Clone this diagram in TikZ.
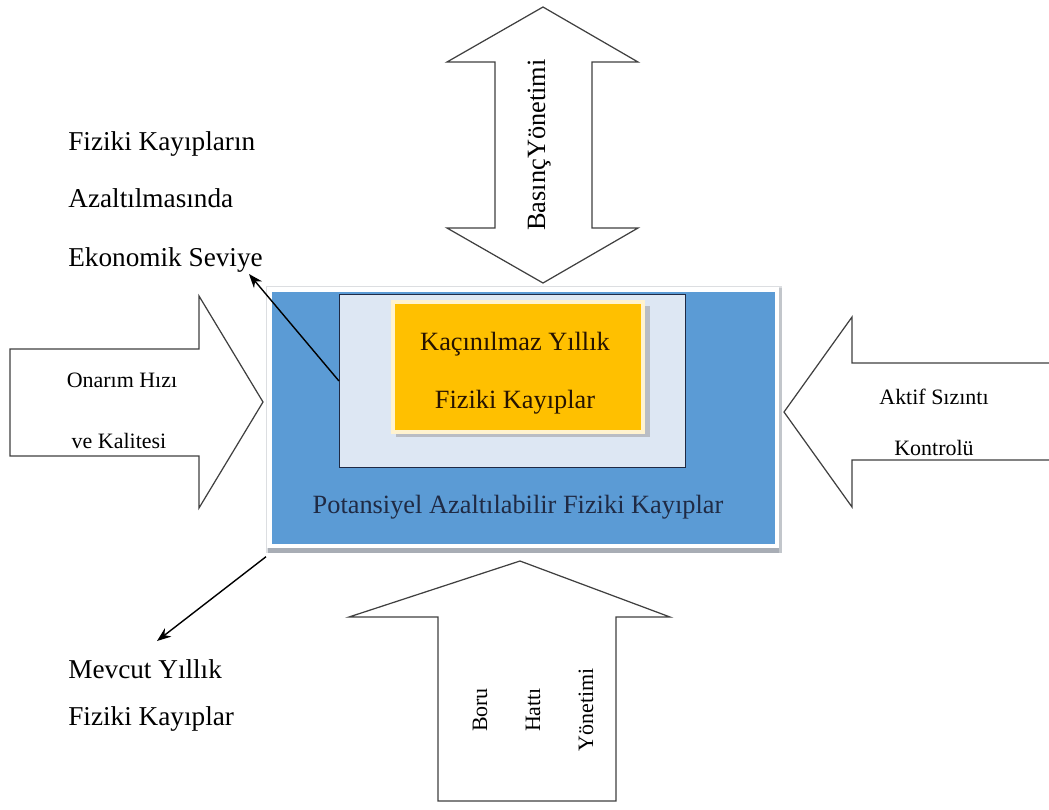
\documentclass[tikz,border=0pt]{standalone}
\usepackage{fontspec}
\setmainfont{Liberation Serif}
\usepackage{tikz}
\usetikzlibrary{arrows.meta}

\definecolor{potblue}{HTML}{5B9BD5}
\definecolor{paleblue}{HTML}{DDE7F3}
\definecolor{navy}{HTML}{1F2A44}
\definecolor{amber}{HTML}{FFC000}
\definecolor{cream}{HTML}{FFF3CF}
\definecolor{rim}{HTML}{A8ADB5}

\begin{document}
\begin{tikzpicture}[x=0.02cm, y=-0.02cm]
    \tikzstyle{blockarrow} = [draw=black!75, line width=0.7pt, fill=white]
    \tikzstyle{big} = [font=\fontsize{15.5}{18}\selectfont, inner sep=0pt]
    \tikzstyle{mid} = [font=\fontsize{15}{18}\selectfont, inner sep=0pt]
    \tikzstyle{small} = [font=\fontsize{12.5}{15}\selectfont, inner sep=0pt]
    \tikzstyle{arrow} = [-{Stealth[length=8pt, width=6pt]}, line width=0.8pt]
    \useasboundingbox[fill=white] (0,0) rectangle (1049,809);

    % block arrows
    \draw[blockarrow] (543,7) -- (638,62) -- (592,62) -- (592,228) -- (638,228) -- (543,283)
        -- (447,228) -- (495,228) -- (495,62) -- (447,62) -- cycle;
    \draw[blockarrow] (10,349) -- (199,349) -- (199,296) -- (263,402) -- (199,508)
        -- (199,456) -- (10,456) -- cycle;
    \draw[blockarrow] (1049,363) -- (852,363) -- (852,317) -- (784,412) -- (852,507)
        -- (852,460) -- (1049,460);
    \draw[blockarrow] (520,561) -- (670,617) -- (616,617) -- (616,801) -- (438,801)
        -- (438,617) -- (349,617) -- cycle;

    % boxes
    \fill[rim!40] (266,286) rectangle (782,553);
    \fill[rim] (268,548) rectangle (782,553);
    \fill[rim!70] (779,288) rectangle (782,553);
    \fill[white] (267,287) rectangle (779,548);
    \node[fill=potblue, minimum width=503*0.02cm, minimum height=252*0.02cm, inner sep=0pt,
        anchor=north west] (pot) at (272,292) {};
    \node[fill=paleblue, draw=navy, line width=0.6pt, minimum width=346*0.02cm,
        minimum height=173*0.02cm, inner sep=0pt, anchor=north west] (inner) at (339,294) {};
    \fill[rim!80] (396,306) rectangle (650,437);
    \node[fill=amber, draw=cream, line width=2pt, minimum width=250*0.02cm,
        minimum height=130*0.02cm, inner sep=0pt, anchor=north west] (core) at (391,300) {};

    % texts
    \node[mid, anchor=base, text=black!85!orange] (kac) at (515,350) {Kaçınılmaz Yıllık};
    \node[mid, anchor=base, text=black!85!orange] (fk1) at (515,408) {Fiziki Kayıplar};
    \node[mid, anchor=base, text=navy] (potx) at (518,513) {Potansiyel Azaltılabilir Fiziki Kayıplar};

    \node[mid, anchor=base, rotate=90] (bas) at (545,145) {BasınçYönetimi};
    \node[small, anchor=base, rotate=90] (boru) at (487,710) {Boru};
    \node[small, anchor=base, rotate=90] (hat) at (540,710) {Hattı};
    \node[small, anchor=base, rotate=90] (yon) at (593,710) {Yönetimi};

    \node[small, anchor=base] (ona) at (122,387) {Onarım Hızı};
    \node[small, anchor=base] (kal) at (119,448) {ve Kalitesi};
    \node[small, anchor=base] (akt) at (934,404) {Aktif Sızıntı};
    \node[small, anchor=base] (kon) at (934,455) {Kontrolü};

    \node[big, anchor=base west] (eko1) at (68,150) {Fiziki Kayıpların};
    \node[big, anchor=base west] (eko2) at (68,207) {Azaltılmasında};
    \node[big, anchor=base west] (eko3) at (68,266) {Ekonomik Seviye};
    \node[big, anchor=base west] (mev1) at (68,678) {Mevcut Yıllık};
    \node[big, anchor=base west] (mev2) at (68,725) {Fiziki Kayıplar};

    % pointers
    \coordinate (ekoTip) at (249,274);
    \coordinate (mevTip) at (157,641);
    \draw[arrow] (inner.west) -- (ekoTip);
    \draw[arrow] (pot.south west) ++(-6,12) coordinate (mevStart) (mevStart) -- (mevTip);
\end{tikzpicture}
\end{document}
